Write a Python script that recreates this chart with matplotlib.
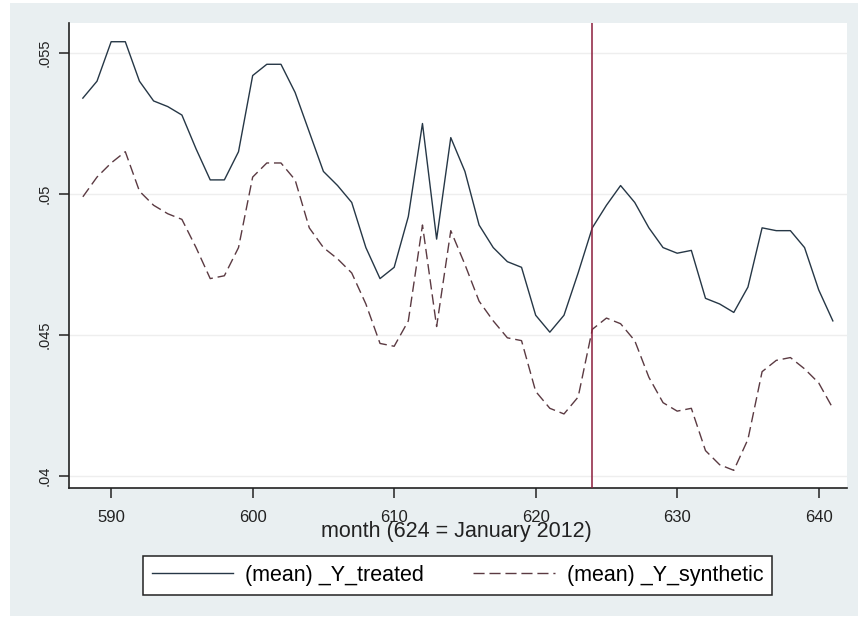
import matplotlib
matplotlib.use("Agg")
import matplotlib.pyplot as plt
from matplotlib.lines import Line2D
from matplotlib.patches import Rectangle

months = list(range(588, 642))
y_treated = [0.0534, 0.0540, 0.0554, 0.0554, 0.0540, 0.0533, 0.0531, 0.0528, 0.0516, 0.0505,
             0.0505, 0.0515, 0.0542, 0.0546, 0.0546, 0.0536, 0.0522, 0.0508, 0.0503, 0.0497,
             0.0481, 0.0470, 0.0474, 0.0492, 0.0525, 0.0484, 0.0520, 0.0508, 0.0489, 0.0481,
             0.0476, 0.0474, 0.0457, 0.0451, 0.0457, 0.0472, 0.0488, 0.0496, 0.0503, 0.0497,
             0.0488, 0.0481, 0.0479, 0.0480, 0.0463, 0.0461, 0.0458, 0.0467, 0.0488, 0.0487,
             0.0487, 0.0481, 0.0466, 0.0455]
y_synthetic = [0.0499, 0.0506, 0.0511, 0.0515, 0.0501, 0.0496, 0.0493, 0.0491, 0.0481, 0.0470,
               0.0471, 0.0481, 0.0506, 0.0511, 0.0511, 0.0505, 0.0488, 0.0481, 0.0477, 0.0472,
               0.0461, 0.0447, 0.0446, 0.0455, 0.0489, 0.0453, 0.0487, 0.0475, 0.0462, 0.0455,
               0.0449, 0.0448, 0.0430, 0.0424, 0.0422, 0.0428, 0.0452, 0.0456, 0.0454, 0.0448,
               0.0435, 0.0426, 0.0423, 0.0424, 0.0409, 0.0404, 0.0402, 0.0413, 0.0437, 0.0441,
               0.0442, 0.0438, 0.0433, 0.0424]
treatment_month = 624
x_ticks = [590, 600, 610, 620, 630, 640]
y_ticks = [0.04, 0.045, 0.05, 0.055]
y_tick_labels = [".04", ".045", ".05", ".055"]
labels = ["(mean) _Y_treated", "(mean) _Y_synthetic"]
x_label = "month (624 = January 2012)"

plt.rcParams['font.family'] = ['Liberation Sans', 'DejaVu Sans']

W, H = 858, 618
fig = plt.figure(figsize=(W / 100, H / 100), dpi=100)
fig.patch.set_facecolor("white")
# outer graph region (Stata-style light blue-grey)
bg = Rectangle((10 / W, 2 / H), (W - 10) / W, (H - 5) / H,
               transform=fig.transFigure, facecolor="#e9eff1",
               edgecolor="none", zorder=-10)
fig.patches.append(bg)

left, right, top, bottom = 68.7, 847, 23, 488
ax = fig.add_axes([left / W, 1 - bottom / H, (right - left) / W, (bottom - top) / H])
ax.set_zorder(1)
ax.set_facecolor("white")

line_col = "#263746"
dash_col = "#5b3a42"
ax.plot(months, y_treated, color=line_col, lw=1.0, label=labels[0], zorder=3)
ax.plot(months, y_synthetic, color=dash_col, lw=1.0, dashes=(7.5, 3.5), label=labels[1], zorder=3)
ax.axvline(treatment_month, color="#8c1c3c", lw=1.1, zorder=4)

ax.set_xlim(587.0, 642.0)
ax.set_ylim(0.039574, 0.056064)
ax.set_yticks(y_ticks)
ax.set_yticklabels(y_tick_labels, rotation=90, va="center", fontsize=10.5)
ax.set_xticks(x_ticks)
ax.set_xticklabels([str(t) for t in x_ticks], fontsize=12)
for t in y_ticks:
    ax.axhline(t, color="#eeeeee", lw=1.0, zorder=1)

for s in ["top", "right"]:
    ax.spines[s].set_visible(False)
for s in ["left", "bottom"]:
    ax.spines[s].set_color("#222222")
    ax.spines[s].set_linewidth(1.2)
ax.tick_params(axis="both", direction="out", length=7, width=1.1, color="#222222",
               labelcolor="#222222")
ax.tick_params(axis="x", pad=8.5)
ax.tick_params(axis="y", pad=5)

ax.set_xlabel(x_label, fontsize=15.5, color="#222222", va="top")
ax.xaxis.set_label_coords(0.4977, -0.071)

handles = [Line2D([], [], color=line_col, lw=1.0),
           Line2D([], [], color=dash_col, lw=1.0, dashes=(8, 3.5))]
leg = fig.legend(handles, labels, ncol=2, loc="center",
                 bbox_to_anchor=(457.4 / W, 1 - 575.3 / H),
                 fontsize=15.5, frameon=True, fancybox=False,
                 handlelength=3.8, handletextpad=0.56, columnspacing=2.25,
                 borderpad=0.42, borderaxespad=0.0)
leg.get_frame().set_edgecolor("#222222")
leg.get_frame().set_linewidth(1.1)
leg.get_frame().set_facecolor("white")
leg.get_frame().set_alpha(None)

fig.savefig("out.png", dpi=100, facecolor=fig.get_facecolor())
